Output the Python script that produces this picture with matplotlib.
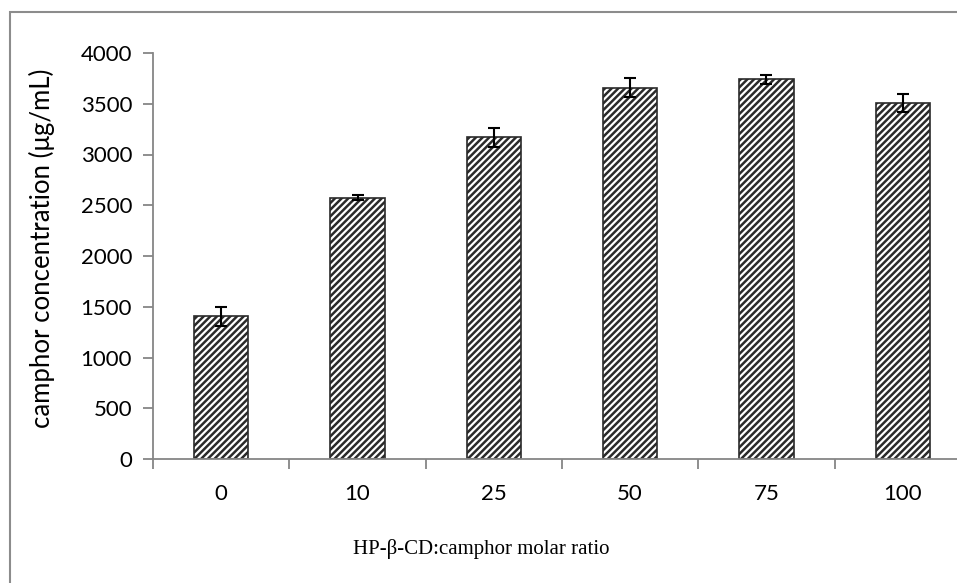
import matplotlib
matplotlib.use('Agg')
import matplotlib.pyplot as plt
from matplotlib.patches import Rectangle
import numpy as np

# Data
ratios = ['0', '10', '25', '50', '75', '100']
conc = [1405, 2575, 3170, 3660, 3740, 3510]
conc_err = [90, 25, 95, 90, 45, 90]

plt.rcParams['hatch.linewidth'] = 1.8

fig = plt.figure(figsize=(9.57, 5.83), dpi=100)

# plot area runs past the right edge like the cropped original
ax = fig.add_axes([153 / 957, 1 - 459 / 583, 818 / 957, 406 / 583])

x_pos = np.arange(len(ratios))
ax.bar(x_pos, conc, width=0.4, color='white', edgecolor='#2a2a2a',
       linewidth=1.2, hatch='/////', zorder=2)
ax.errorbar(x_pos, conc, yerr=conc_err, fmt='none', ecolor='black',
            elinewidth=1.5, capsize=4, capthick=1.5, zorder=3)

ax.set_xlim(-0.5, 5.5)
ax.set_ylim(0, 4000)
ax.set_yticks(np.arange(0, 4001, 500))

# category boundaries get tick marks, labels sit in between
ax.set_xticks(np.arange(-0.5, 6, 1))
ax.set_xticklabels([])
ax.set_xticks(x_pos, minor=True)
ax.set_xticklabels(ratios, minor=True)
ax.tick_params(axis='x', which='minor', length=0, pad=18)
ax.tick_params(axis='x', which='major', length=7, width=1.3, color='#868686',
               direction='out')
ax.tick_params(axis='y', length=7, width=1.3, color='#868686',
               direction='out', pad=8)

for lab in ax.get_yticklabels() + ax.get_xticklabels(minor=True):
    lab.set_fontfamily('Lato')
    lab.set_fontsize(16)

ax.spines['top'].set_visible(False)
ax.spines['right'].set_visible(False)
ax.spines['left'].set_color('#868686')
ax.spines['bottom'].set_color('#868686')
ax.spines['left'].set_linewidth(1.3)
ax.spines['bottom'].set_linewidth(1.3)

fig.text(42 / 957, 1 - 248 / 583, 'camphor concentration (μg/mL)',
         rotation=90, ha='center', va='center', fontfamily='Lato', fontsize=18.5)
fig.text(481 / 957, 1 - 549 / 583, 'HP-β-CD:camphor molar ratio',
         ha='center', va='center', fontfamily='Liberation Serif', fontsize=15)

# outer chart frame (right and bottom edges cropped off)
fig.patches.append(Rectangle((10 / 957, -0.1), 1.2, 1.1 - 11.7 / 583,
                             transform=fig.transFigure, fill=False,
                             edgecolor='#8c8c8c', linewidth=1.5))

fig.savefig('out.png', dpi=100)
